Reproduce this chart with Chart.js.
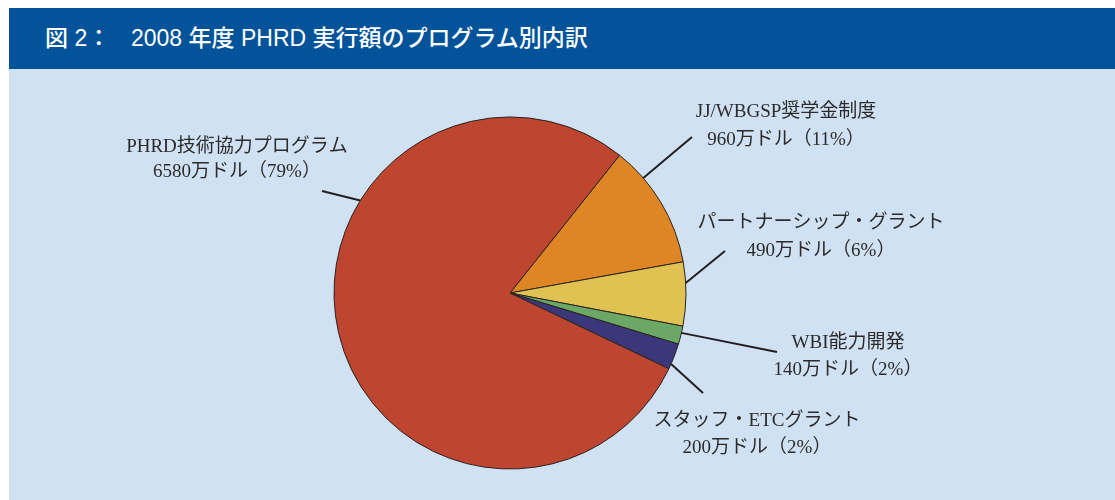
<!DOCTYPE html>
<html lang="ja">
<head>
<meta charset="utf-8">
<script src="https://cdn.jsdelivr.net/npm/chart.js@4.4.1/dist/chart.umd.min.js"></script>
<style>
  html, body { margin: 0; padding: 0; background: #ffffff; }
  #wrap { position: relative; width: 1115px; height: 500px; overflow: hidden; }
  #bar { position: absolute; left: 9px; top: 8px; width: 1106px; height: 61px; background: #02539a; }
  #panel { position: absolute; left: 9px; top: 69px; width: 1106px; height: 431px; background: #cfe1f2; }
  .ttl { position: absolute; top: 0; height: 61px; line-height: 61px; color: #ffffff;
         font-family: "Liberation Sans", "Noto Sans CJK JP", sans-serif; font-size: 23px; font-weight: 500; white-space: nowrap; }
  #c { position: absolute; left: 0; top: 0; }
</style>
</head>
<body>
<div id="wrap">
  <div id="bar">
    <span class="ttl" style="left:36px">図 2：</span>
    <span class="ttl" style="left:122px">2008 年度 PHRD 実行額のプログラム別内訳</span>
  </div>
  <div id="panel"></div>
  <canvas id="c" width="1115" height="500"></canvas>
</div>
<script>
// ---- data ----
const categories = ["JJ/WBGSP奨学金制度", "パートナーシップ・グラント", "WBI能力開発", "スタッフ・ETCグラント", "PHRD技術協力プログラム"];
const amounts = [960, 490, 140, 200, 6580];          // 万ドル
const percents = [11, 6, 2, 2, 79];                  // %
const colors = ["#de8524", "#dfc252", "#6ba866", "#3a387a", "#be4630"];

// ---- label placement (style/layout only) ----
const labelLayout = [
  { frac: 0.26, end: [692, 137], x: 786, y: [112, 140] },
  { frac: 0.33, end: [725, 251], x: 821, y: [223, 251] },
  { frac: 0.37, end: [777, 352], x: 848, y: [343, 370] },
  { frac: 0.80, end: [703, 393], x: 757, y: [421, 448] },
  { frac: 0.658, end: [322, 191], x: 237, y: [147, 172] }
];

const leaderLabels = {
  id: 'leaderLabels',
  afterDatasetsDraw(chart) {
    const ctx = chart.ctx;
    const meta = chart.getDatasetMeta(0);
    ctx.save();
    meta.data.forEach((arc, i) => {
      const p = arc.getProps(['x', 'y', 'startAngle', 'endAngle', 'outerRadius'], true);
      const L = labelLayout[i];
      const a = p.startAngle + L.frac * (p.endAngle - p.startAngle);
      const sx = p.x + Math.cos(a) * p.outerRadius;
      const sy = p.y + Math.sin(a) * p.outerRadius;
      ctx.beginPath();
      ctx.moveTo(sx, sy);
      ctx.lineTo(L.end[0], L.end[1]);
      ctx.strokeStyle = '#231f20';
      ctx.lineWidth = 2;
      ctx.stroke();
      ctx.fillStyle = '#2b2b2b';
      ctx.font = '19px "Liberation Serif", "Noto Sans CJK JP", serif';
      ctx.textAlign = 'center';
      ctx.textBaseline = 'middle';
      ctx.fillText(categories[i], L.x, L.y[0]);
      ctx.fillText(amounts[i] + '万ドル（' + percents[i] + '%）', L.x, L.y[1]);
    });
    ctx.restore();
  }
};

new Chart(document.getElementById('c'), {
  type: 'pie',
  data: {
    labels: categories,
    datasets: [{
      data: amounts,
      backgroundColor: colors,
      borderColor: '#2a2220',
      borderWidth: 1
    }]
  },
  options: {
    responsive: false,
    animation: false,
    rotation: 38.5,
    radius: 176,
    layout: { padding: { left: 334, right: 429, top: 117, bottom: 31 } },
    plugins: { legend: { display: false }, tooltip: { enabled: false }, title: { display: false } },
    events: []
  },
  plugins: [leaderLabels]
});
</script>
</body>
</html>
